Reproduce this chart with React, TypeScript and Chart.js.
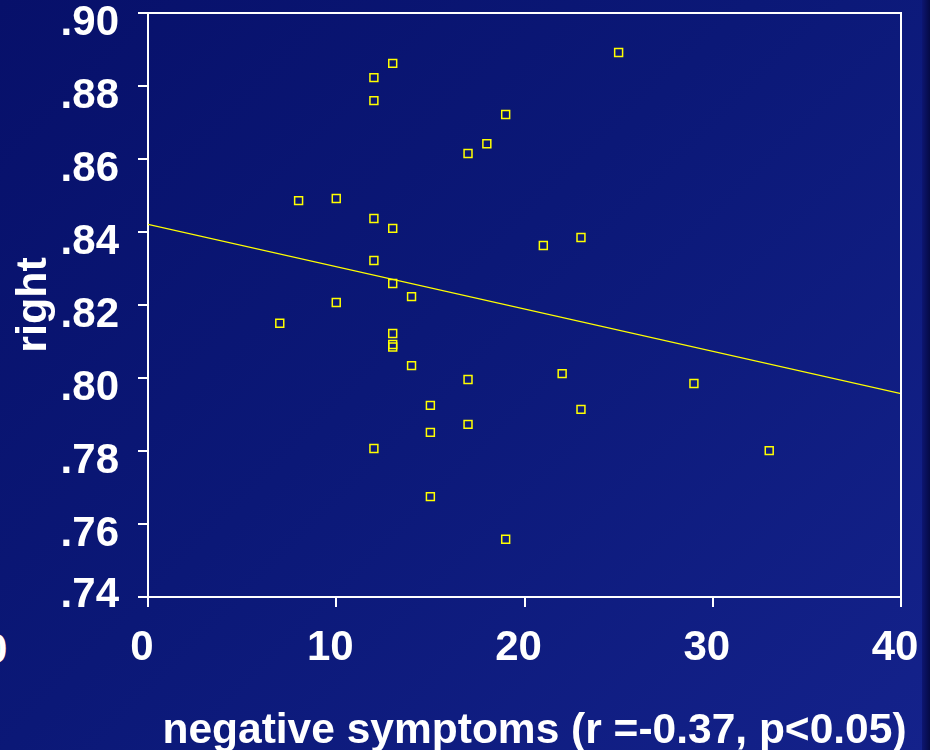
import React, { useEffect, useRef } from "react";
import { Chart, registerables } from "chart.js";

Chart.register(...registerables);

// ---- data ----
const symptomScores = [25, 13, 12, 12, 19, 18, 17, 8, 10, 12, 13, 23, 21, 12, 13, 14, 10, 7, 13, 13, 13, 14, 22, 17, 29, 15, 23, 15, 17, 12, 33, 15, 19];
const rightValues = [0.8892, 0.8862, 0.8823, 0.876, 0.8722, 0.8642, 0.8615, 0.8486, 0.8492, 0.8437, 0.841, 0.8385, 0.8363, 0.8322, 0.8259, 0.8223, 0.8207, 0.815, 0.8122, 0.8092, 0.8085, 0.8034, 0.8012, 0.7996, 0.7985, 0.7925, 0.7914, 0.7851, 0.7873, 0.7807, 0.7801, 0.7675, 0.7558];
const fitX = [0, 40];
const fitY = [0.8421, 0.7957];
const xRange = [0, 40];
const xStep = 10;
const yRange = [0.74, 0.9];
const yStep = 0.02;
const xTitle = "negative symptoms (r =-0.37, p<0.05)";
const yTitle = "right";

const FONT = "'Liberation Sans', Arial, Helvetica, sans-serif";
const YELLOW = "#ffff00";

const fmtY = (v: number) => v.toFixed(2).replace(/^0/, "");

const yLabelPlugin = {
  id: "yLabels",
  afterDraw(chart: any) {
    const s = chart.scales.y;
    const ctx = chart.ctx;
    ctx.save();
    ctx.font = `bold 42px ${FONT}`;
    ctx.fillStyle = "#ffffff";
    ctx.textAlign = "right";
    ctx.textBaseline = "middle";
    s.ticks.forEach((t: any) => {
      const py = s.getPixelForValue(t.value);
      const y = Math.min(py + 10, chart.chartArea.bottom - 2);
      ctx.fillText(fmtY(t.value), s.right - 29, y);
    });
    ctx.restore();
  },
};

const xTitlePlugin = {
  id: "xTitle",
  afterDraw(chart: any) {
    const { left, right } = chart.chartArea;
    const ctx = chart.ctx;
    ctx.save();
    ctx.font = `bold 42.5px ${FONT}`;
    ctx.fillStyle = "#ffffff";
    ctx.textAlign = "center";
    ctx.textBaseline = "alphabetic";
    ctx.fillText(xTitle, (left + right) / 2 + 10, 743);
    ctx.restore();
  },
};

const framePlugin = {
  id: "frame",
  afterDraw(chart: any) {
    const { top, right, bottom, left } = chart.chartArea;
    const ctx = chart.ctx;
    ctx.save();
    ctx.strokeStyle = "#ffffff";
    ctx.lineWidth = 2;
    ctx.beginPath();
    ctx.moveTo(left, top);
    ctx.lineTo(right, top);
    ctx.lineTo(right, bottom);
    ctx.stroke();
    ctx.restore();
  },
};

export default function App() {
  const canvasRef = useRef<HTMLCanvasElement | null>(null);

  useEffect(() => {
    if (!canvasRef.current) return;
    const points = symptomScores.map((x, i) => ({ x, y: rightValues[i] }));
    const fit = fitX.map((x, i) => ({ x, y: fitY[i] }));
    const tickFont = { family: FONT, size: 42, weight: "bold" as const };

    const chart = new Chart(canvasRef.current, {
      type: "scatter",
      data: {
        datasets: [
          {
            label: "right",
            data: points,
            pointStyle: "rect",
            pointRadius: 5.6,
            pointBorderWidth: 1.5,
            pointBackgroundColor: "rgba(0,0,0,0)",
            pointBorderColor: YELLOW,
            showLine: false,
          } as any,
          {
            type: "line",
            label: "fit",
            data: fit,
            borderColor: YELLOW,
            borderWidth: 1.3,
            pointRadius: 0,
            showLine: true,
            fill: false,
          } as any,
        ],
      },
      options: {
        responsive: false,
        animation: false,
        layout: { padding: { top: 13, right: 29, left: 0, bottom: 0 } },
        plugins: {
          legend: { display: false },
          tooltip: { enabled: false },
          title: { display: false },
        },
        scales: {
          x: {
            type: "linear",
            min: xRange[0],
            max: xRange[1],
            ticks: {
              stepSize: xStep,
              color: "#ffffff",
              font: tickFont,
              padding: 16,
              labelOffset: -6,
              maxRotation: 0,
              autoSkip: false,
            },
            grid: {
              display: true,
              drawOnChartArea: false,
              drawTicks: true,
              tickLength: 10,
              color: "#ffffff",
              lineWidth: 2,
            },
            border: { display: true, color: "#ffffff", width: 2 },
            title: { display: false, text: xTitle },
            afterFit: (s: any) => {
              s.height = 153;
              s.paddingLeft = 0;
              s.paddingRight = 0;
            },
          },
          y: {
            type: "linear",
            min: yRange[0],
            max: yRange[1],
            ticks: {
              stepSize: yStep,
              display: false,
            },
            grid: {
              display: true,
              drawOnChartArea: false,
              drawTicks: true,
              tickLength: 10,
              color: "#ffffff",
              lineWidth: 2,
            },
            border: { display: true, color: "#ffffff", width: 2 },
            title: {
              display: true,
              text: yTitle,
              color: "#ffffff",
              font: { family: FONT, size: 43, weight: "bold" },
              padding: { top: 8, bottom: 0 },
            },
            afterFit: (s: any) => {
              s.width = 148;
              s.paddingTop = 0;
              s.paddingBottom = 0;
            },
          },
        },
      } as any,
      plugins: [framePlugin, yLabelPlugin, xTitlePlugin],
    });
    return () => chart.destroy();
  }, []);

  return (
    <div
      style={{
        position: "fixed",
        left: 0,
        top: 0,
        width: 930,
        height: 750,
        overflow: "hidden",
        background: "linear-gradient(135deg, #07106a 0%, #0b1877 45%, #14228b 100%)",
      }}
    >
      <div
        style={{
          position: "absolute",
          left: 922,
          top: 0,
          width: 8,
          height: 750,
          background: "linear-gradient(to right, #0d1672, #050a45)",
        }}
      />
      <span
        style={{
          position: "absolute",
          left: -16,
          top: 628,
          font: `bold 42px ${FONT}`,
          lineHeight: "42px",
          color: "#ffffff",
          whiteSpace: "nowrap",
        }}
      >
        0
      </span>
      <canvas
        ref={canvasRef}
        width={930}
        height={750}
        style={{ position: "absolute", left: 0, top: 0, display: "block" }}
      />
    </div>
  );
}
